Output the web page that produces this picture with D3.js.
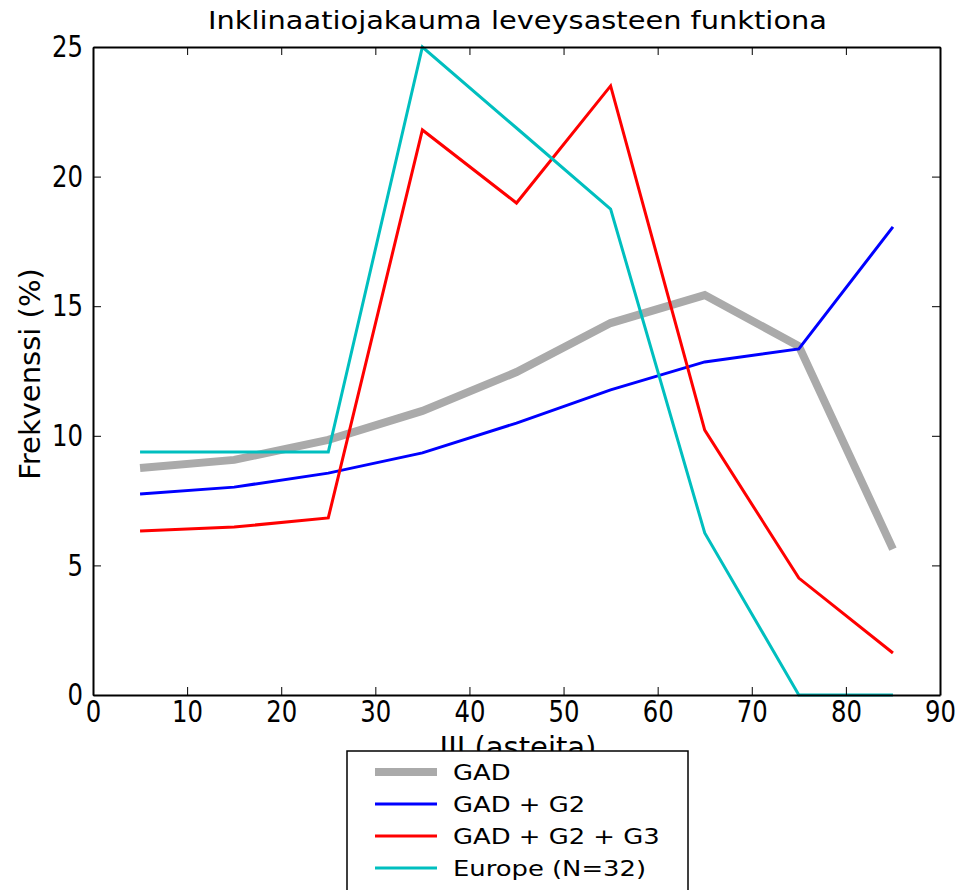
<!DOCTYPE html>
<html>
<head>
<meta charset="utf-8">
<script src="https://cdn.jsdelivr.net/npm/d3@7"></script>
<style>
  body { margin: 0; background: #fff; }
  text { font-family: 'DejaVu Sans', sans-serif; fill: #000; }
</style>
</head>
<body>
<svg width="962" height="890"></svg>
<script>
var latitudes = [5, 15, 25, 35, 45, 55, 65, 75, 85]
var gad = [8.76, 9.07, 9.84, 10.96, 12.46, 14.35, 15.43, 13.46, 5.63]
var gadG2 = [7.75, 8.02, 8.56, 9.34, 10.49, 11.77, 12.85, 13.35, 18.06]
var gadG2G3 = [6.33, 6.48, 6.83, 21.8, 18.98, 23.5, 10.22, 4.51, 1.62]
var europe = [9.375, 9.375, 9.375, 25, 21.875, 18.75, 6.25, 0, 0]
var xTicks = [0, 10, 20, 30, 40, 50, 60, 70, 80, 90]
var yTicks = [0, 5, 10, 15, 20, 25]

var series = [
  {name: 'GAD', values: gad, color: '#aaaaaa', width: 8},
  {name: 'GAD + G2', values: gadG2, color: '#0000ff', width: 3},
  {name: 'GAD + G2 + G3', values: gadG2G3, color: '#ff0000', width: 3},
  {name: 'Europe (N=32)', values: europe, color: '#00bfbf', width: 3}
]

var margin = {top: 47, right: 22, bottom: 195, left: 93}
var width = 962 - margin.left - margin.right
var height = 890 - margin.top - margin.bottom

var x = d3.scaleLinear().domain([0, 90]).range([0, width])
var y = d3.scaleLinear().domain([0, 25]).range([height, 0])

var svg = d3.select('svg')

svg.append('text')
  .attr('x', 208)
  .attr('y', 29)
  .attr('textLength', 619)
  .attr('lengthAdjust', 'spacingAndGlyphs')
  .style('font-size', '25px')
  .text('Inklinaatiojakauma leveysasteen funktiona')

var group = svg.append('g')
  .attr('transform', 'translate(' + margin.left + ',' + margin.top + ')')

var line = d3.line()
  .x(function (d) { return x(d[0]) })
  .y(function (d) { return y(d[1]) })

group.selectAll('.series')
  .data(series)
  .enter()
  .append('path')
  .attr('class', 'series')
  .attr('fill', 'none')
  .attr('stroke', function (d) { return d.color })
  .attr('stroke-width', function (d) { return d.width })
  .attr('d', function (d) {
    return line(latitudes.map(function (lat, i) { return [lat, d.values[i]] }))
  })

// axes with inward ticks on all four sides, matplotlib style
var xBottom = group.append('g')
  .attr('transform', 'translate(0,' + height + ')')
  .call(d3.axisBottom(x).tickValues(xTicks).tickSize(-8).tickSizeOuter(0).tickPadding(6))
var xTop = group.append('g')
  .call(d3.axisTop(x).tickValues(xTicks).tickSize(-8).tickSizeOuter(0).tickFormat(''))
var yLeft = group.append('g')
  .call(d3.axisLeft(y).tickValues(yTicks).tickSize(-8).tickSizeOuter(0).tickPadding(10))
var yRight = group.append('g')
  .attr('transform', 'translate(' + width + ',0)')
  .call(d3.axisRight(y).tickValues(yTicks).tickSize(-8).tickSizeOuter(0).tickFormat(''))

;[xBottom, xTop, yLeft, yRight].forEach(function (a) {
  a.select('.domain').attr('stroke', '#000').attr('stroke-width', 2)
  a.selectAll('.tick line').attr('stroke', '#000').attr('stroke-width', 1)
  a.selectAll('.tick text')
    .style('font-size', '30px')
    .attr('fill', '#000')
    .attr('textLength', function () { return this.textContent.length * 15.5 })
    .attr('lengthAdjust', 'spacingAndGlyphs')
})

svg.append('text')
  .attr('transform', 'translate(40,' + 374 + ') rotate(-90)')
  .attr('text-anchor', 'middle')
  .style('font-size', '29px')
  .text('Frekvenssi (%)')

svg.append('text')
  .attr('x', 518)
  .attr('y', 757)
  .attr('text-anchor', 'middle')
  .style('font-size', '29px')
  .text('III (asteita)')

// legend
var legend = svg.append('g').attr('transform', 'translate(347,751)')
legend.append('rect')
  .attr('width', 341)
  .attr('height', 160)
  .attr('fill', '#fff')
  .attr('stroke', '#000')
  .attr('stroke-width', 1.5)

var rows = legend.selectAll('.row')
  .data(series)
  .enter()
  .append('g')
  .attr('class', 'row')
  .attr('transform', function (d, i) { return 'translate(0,' + (21 + i * 32) + ')' })

rows.append('line')
  .attr('x1', 28).attr('x2', 90)
  .attr('stroke', function (d) { return d.color })
  .attr('stroke-width', function (d) { return d.width })
rows.append('text')
  .attr('x', 106)
  .attr('dy', '0.36em')
  .style('font-size', '21px')
  .text(function (d) { return d.name })
  .attr('textLength', function () { return this.getComputedTextLength() * 1.23 })
  .attr('lengthAdjust', 'spacingAndGlyphs')
</script>
</body>
</html>
